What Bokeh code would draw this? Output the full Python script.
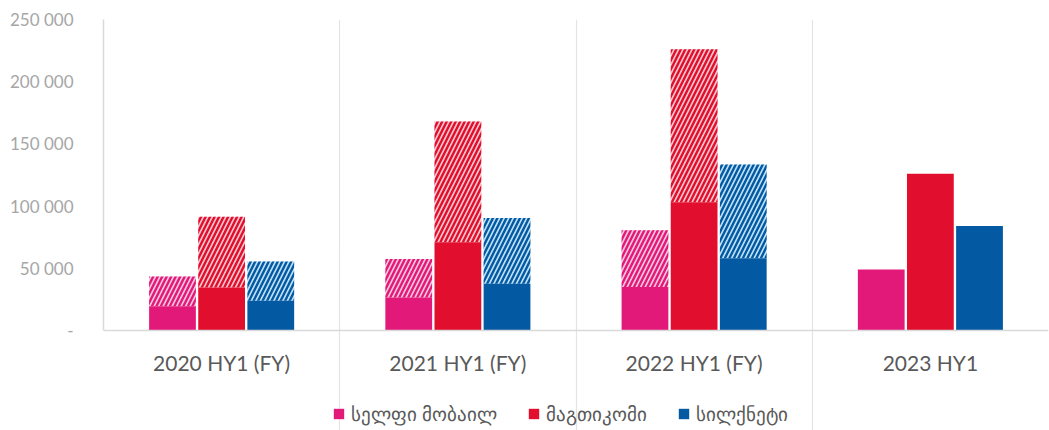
from bokeh.plotting import figure
from bokeh.models import ColumnDataSource, Range1d, FixedTicker, Legend, LegendItem, Span
from bokeh.core.properties import value
from bokeh.transform import dodge
from bokeh.embed import file_html
from bokeh.resources import INLINE

categories = ["2020 HY1 (FY)", "2021 HY1 (FY)", "2022 HY1 (FY)", "2023 HY1"]
series_names = ["სელფი მობაილ", "მაგთიკომი", "სილქნეტი"]
selfie_hy1 = [19500, 26500, 35000, 49000]
selfie_fy = [43500, 57500, 80500, float("nan")]
magti_hy1 = [34500, 71000, 103000, 126000]
magti_fy = [91500, 168000, 226000, float("nan")]
silknet_hy1 = [24000, 37500, 58000, 84000]
silknet_fy = [55500, 90500, 133500, float("nan")]
y_ticks = [0, 50000, 100000, 150000, 200000, 250000]
y_tick_labels = ["-", "50 000", "100 000", "150 000", "200 000", "250 000"]

colors = ["#E3197A", "#E20E2D", "#0459A3"]
light = ["#F8C6DD", "#F8C7CE", "#BEE1F5"]

FONT = "Lato"
Y_MAX = 250000
# frame spans 411 px; the value axis (0..Y_MAX) occupies the top 311 px
Y_MIN = -Y_MAX * 100 / 311

centers = [i + 0.5 for i in range(len(categories))]
src = ColumnDataSource(dict(
    x=centers, zero=[0] * len(categories), cat=categories,
    s_h=selfie_hy1, s_f=selfie_fy,
    m_h=magti_hy1, m_f=magti_fy,
    k_h=silknet_hy1, k_f=silknet_fy,
))

p = figure(frame_width=945, frame_height=411, output_backend="svg", toolbar_location=None,
           x_range=Range1d(0, 4), y_range=Range1d(Y_MIN, Y_MAX),
           x_axis_location=None,
           min_border_left=103, min_border_right=1, min_border_top=19,
           min_border_bottom=0)
p.outline_line_color = None
p.background_fill_color = "white"

offsets = [-0.208, 0.0, 0.208]
keys = [("s_h", "s_f"), ("m_h", "m_f"), ("k_h", "k_f")]
items = []
for i, (hk, fk) in enumerate(keys):
    xd = dodge("x", offsets[i])
    p.vbar(x=xd, width=0.198, bottom=hk, top=fk, source=src,
           fill_color=light[i], line_color=None,
           hatch_pattern="/", hatch_color=colors[i], hatch_scale=9, hatch_weight=2.4)
    r = p.vbar(x=xd, width=0.198, bottom=0, top=hk, source=src,
               fill_color=colors[i], line_color=None)
    items.append(LegendItem(label=series_names[i], renderers=[r]))

# category baseline and labels
p.add_layout(Span(location=0, dimension="width", line_color="#D9D9D9", line_width=1.5))
p.text(x="x", y="zero", text="cat", source=src, text_font=value(FONT),
       text_font_size="21px", text_color="#595959", text_align="center",
       text_baseline="middle", y_offset=32)

p.yaxis.ticker = FixedTicker(ticks=y_ticks)
p.yaxis.bounds = (0, Y_MAX)
p.yaxis.major_label_overrides = {t: l for t, l in zip(y_ticks, y_tick_labels)}
p.yaxis.major_label_text_font = FONT
p.yaxis.major_label_text_font_size = "17px"
p.yaxis.major_label_text_color = "#A6A6A6"
p.yaxis.major_label_standoff = 24
p.yaxis.axis_line_color = "#D9D9D9"
p.yaxis.axis_line_width = 1.5
p.yaxis.major_tick_line_color = None
p.yaxis.minor_tick_line_color = None

p.ygrid.grid_line_color = None
p.xgrid.ticker = FixedTicker(ticks=[1, 2, 3])
p.xgrid.bounds = (0, Y_MAX)
p.xgrid.grid_line_color = "#E3E3E3"
p.xgrid.grid_line_width = 1.2

legend = Legend(items=items, orientation="horizontal", location=(229, 5),
                label_text_font=FONT, label_text_font_size="19px",
                label_text_color="#595959", glyph_width=13, glyph_height=13,
                spacing=30, label_standoff=6, border_line_color=None,
                padding=0, margin=0, background_fill_alpha=0)
p.add_layout(legend, "center")

open("out.html", "w").write(file_html(p, INLINE))
